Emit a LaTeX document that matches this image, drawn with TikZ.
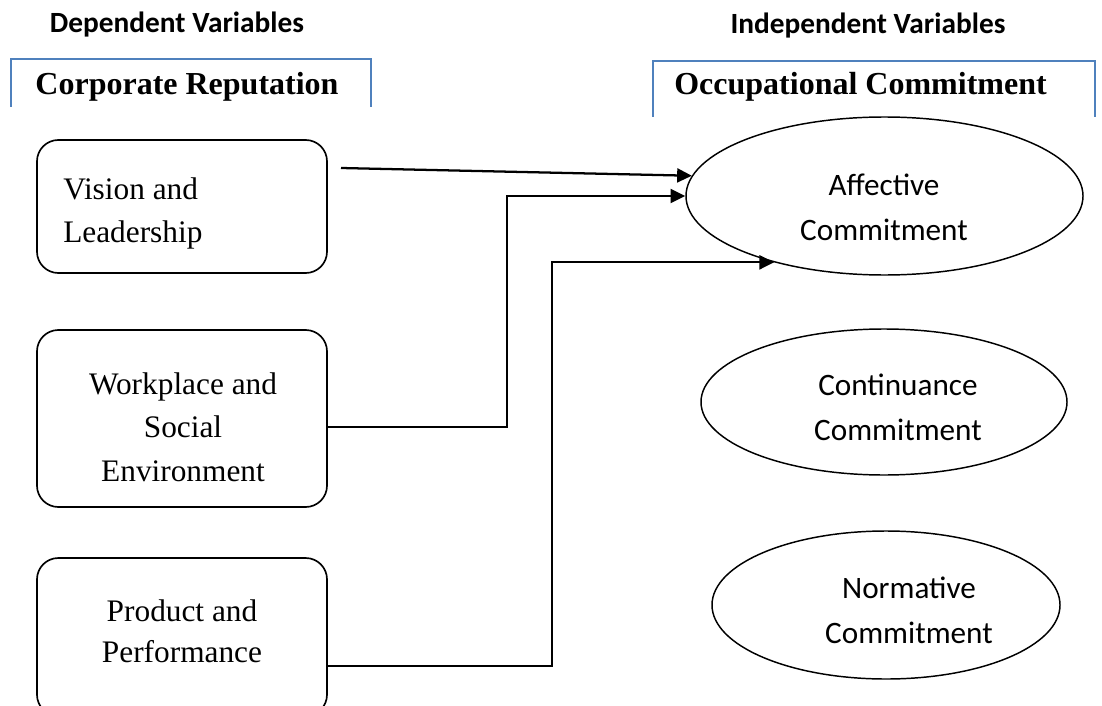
\documentclass[tikz,border=0pt]{standalone}
\usepackage{fontspec}
\setmainfont{Liberation Serif}
\newfontfamily\calibri{Carlito}
\usetikzlibrary{arrows.meta,shapes.geometric}
\definecolor{wordblue}{RGB}{79,129,189}
\begin{document}
\begin{tikzpicture}[x=0.75pt,y=-0.75pt,
  box/.style={draw,line width=1.25pt,rounded corners=16pt,minimum width=217.5pt,inner sep=0pt},
  oval/.style={draw,ellipse,line width=1.1pt,inner sep=0pt},
  serif/.style={font=\fontsize{23.5}{32.5}\selectfont,inner sep=0pt},
  sans/.style={font=\calibri\fontsize{23.4}{33.75}\selectfont,align=center,inner sep=0pt},
  varhead/.style={font=\calibri\bfseries\fontsize{22}{26}\selectfont,inner sep=0pt,anchor=base},
  grouphead/.style={font=\bfseries\fontsize{24}{28}\selectfont,inner sep=0pt,anchor=base},
  bracket/.style={draw=wordblue,line width=1.2pt},
  conn/.style={draw,line width=1.7pt,-{Triangle[length=11pt,width=10.5pt]}},
]
\useasboundingbox (0,0) rectangle (1102,706);
\clip (0,0) rectangle (1102,706);

% headings
\node[varhead] (dv) at (177,33) {Dependent Variables};
\node[varhead] (iv) at (868,34) {Independent Variables};

\draw[bracket] (11,107) -- (11,59) -- (371,59) -- (371,107);
\draw[bracket] (653,117) -- (653,61) -- (1095,61) -- (1095,117);
\node[grouphead] (cr) at (187,95) {Corporate Reputation};
\node[grouphead] (oc) at (860.5,95) {Occupational Commitment};

% boxes
\node[box,minimum height=99.75pt] (b1) at (182,206.5) {};
\node[box,minimum height=132.75pt] (b2) at (182,418.5) {};
\node[box,minimum height=118.5pt] (b3) at (182,637) {};
\node[serif,align=left,anchor=west] (t1) at (63,213.5) {Vision and\\Leadership};
\node[serif,align=center] (t2) at (183,427) {Workplace and\\Social\\Environment};
\node[serif,align=center,font=\fontsize{23.5}{30.5}\selectfont] (t3) at (182,631.5) {Product and\\Performance};

% ellipses
\node[oval,minimum width=297.75pt,minimum height=118.5pt] (e1) at (884.5,196) {};
\node[oval,minimum width=274.5pt,minimum height=109.5pt] (e2) at (884,402) {};
\node[oval,minimum width=261pt,minimum height=111pt] (e3) at (886,605) {};
\node[sans] (s1) at (884,207.5) {Affective\\Commitment};
\node[sans] (s2) at (898,407.5) {Continuance\\Commitment};
\node[sans] (s3) at (909,610.5) {Normative\\Commitment};

% connectors
\coordinate (a1s) at (341,168);
\coordinate (k2) at (507,427);
\coordinate (k3) at (552,666);
\draw[conn] (a1s) -- (e1.174);
\draw[conn] (b2.east |- k2) -- (k2) |- (e1.west);
\draw[conn] (b3.east |- k3) -- (k3) |- (e1.211);
\end{tikzpicture}
\end{document}
